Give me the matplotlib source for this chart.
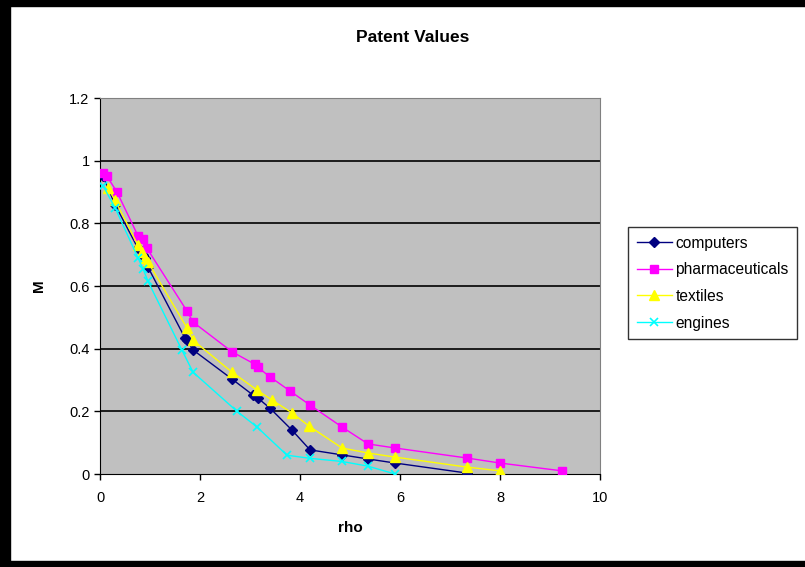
import numpy as np
import matplotlib.pyplot as plt
import matplotlib.patches as patches

plt.rcParams['font.family'] = ['Liberation Sans', 'DejaVu Sans']

# series
comp_x = [0.06, 0.3, 0.76, 0.86, 0.9, 0.96, 1.7, 1.74, 1.86, 2.64, 3.06, 3.16, 3.4, 3.84, 4.2, 4.84, 5.36, 5.9, 7.34]
comp_y = [0.95, 0.86, 0.72, 0.70, 0.69, 0.66, 0.434, 0.427, 0.396, 0.303, 0.252, 0.242, 0.21, 0.14, 0.077, 0.061, 0.048, 0.035, 0.003]

pharm_x = [0.06, 0.14, 0.34, 0.76, 0.86, 0.94, 1.74, 1.86, 2.64, 3.1, 3.16, 3.4, 3.8, 4.2, 4.84, 5.36, 5.9, 7.34, 8.0, 9.24]
pharm_y = [0.96, 0.95, 0.90, 0.76, 0.75, 0.72, 0.52, 0.485, 0.39, 0.35, 0.34, 0.31, 0.265, 0.22, 0.15, 0.096, 0.083, 0.051, 0.035, 0.01]

text_x = [0.16, 0.3, 0.76, 0.84, 0.9, 0.96, 1.74, 1.86, 2.64, 3.14, 3.44, 3.84, 4.18, 4.84, 5.36, 5.9, 7.34, 8.0]
text_y = [0.912, 0.874, 0.73, 0.707, 0.689, 0.676, 0.466, 0.427, 0.325, 0.268, 0.236, 0.195, 0.153, 0.083, 0.067, 0.054, 0.022, 0.01]

eng_x = [0.06, 0.3, 0.76, 0.86, 0.96, 1.64, 1.86, 2.74, 3.14, 3.74, 4.2, 4.84, 5.36, 5.9]
eng_y = [0.92, 0.85, 0.69, 0.655, 0.615, 0.395, 0.325, 0.2, 0.15, 0.06, 0.05, 0.04, 0.025, 0.0]

yticks = [0, 0.2, 0.4, 0.6, 0.8, 1, 1.2]
ytick_labels = ['0', '0.2', '0.4', '0.6', '0.8', '1', '1.2']
xticks = [0, 2, 4, 6, 8, 10]

fig = plt.figure(figsize=(8.05, 5.67), dpi=100)
ax = fig.add_axes([100/805, 93/567, 500/805, 376/567])
ax.set_facecolor('#C0C0C0')

for y in yticks[1:-1]:
    ax.axhline(y, color='black', lw=1.2, zorder=1)

ax.plot(comp_x, comp_y, color='#000080', marker='D', ms=5, lw=1, label='computers', zorder=3)
ax.plot(pharm_x, pharm_y, color='#FF00FF', marker='s', ms=6, lw=1, label='pharmaceuticals', zorder=3)
ax.plot(text_x, text_y, color='#FFFF00', marker='^', ms=6.5, lw=1, label='textiles', zorder=3)
ax.plot(eng_x, eng_y, color='#00FFFF', marker='x', ms=5.5, mew=1.2, lw=1, label='engines', zorder=3)

ax.set_xlim(0, 10)
ax.set_ylim(0, 1.2)
ax.set_xticks(xticks)
ax.set_yticks(yticks)
ax.set_yticklabels(ytick_labels)
ax.tick_params(axis='both', direction='out', length=4, width=1, labelsize=10.5, color='black')
ax.tick_params(axis='x', pad=8)
for side in ['top', 'right']:
    ax.spines[side].set_color('#808080')
for side in ['left', 'bottom']:
    ax.spines[side].set_color('black')

ax.set_xlabel('rho', fontsize=11, fontweight='bold', labelpad=12)
ax.set_ylabel('M', fontsize=11, fontweight='bold', labelpad=17)
fig.text(0.513, 1 - 38/567, 'Patent Values', ha='center', va='center', fontsize=12.5, fontweight='bold')

leg = fig.legend(loc='upper left', bbox_to_anchor=(628/805, 1 - 227/567), frameon=True,
                 fancybox=False, fontsize=11.2, handlelength=2.3, borderpad=0.55,
                 labelspacing=0.75, handletextpad=0.2, borderaxespad=0)
leg.get_frame().set_edgecolor('black')
leg.get_frame().set_linewidth(1)

# black border of the chart area
fig.patches.append(patches.Rectangle((0, 0), 10/805, 1, transform=fig.transFigure, color='black'))
fig.patches.append(patches.Rectangle((0, 1 - 6/567), 1, 6/567, transform=fig.transFigure, color='black'))
fig.patches.append(patches.Rectangle((0, 0), 1, 6/567, transform=fig.transFigure, color='black'))

fig.savefig('out.png', dpi=100)
